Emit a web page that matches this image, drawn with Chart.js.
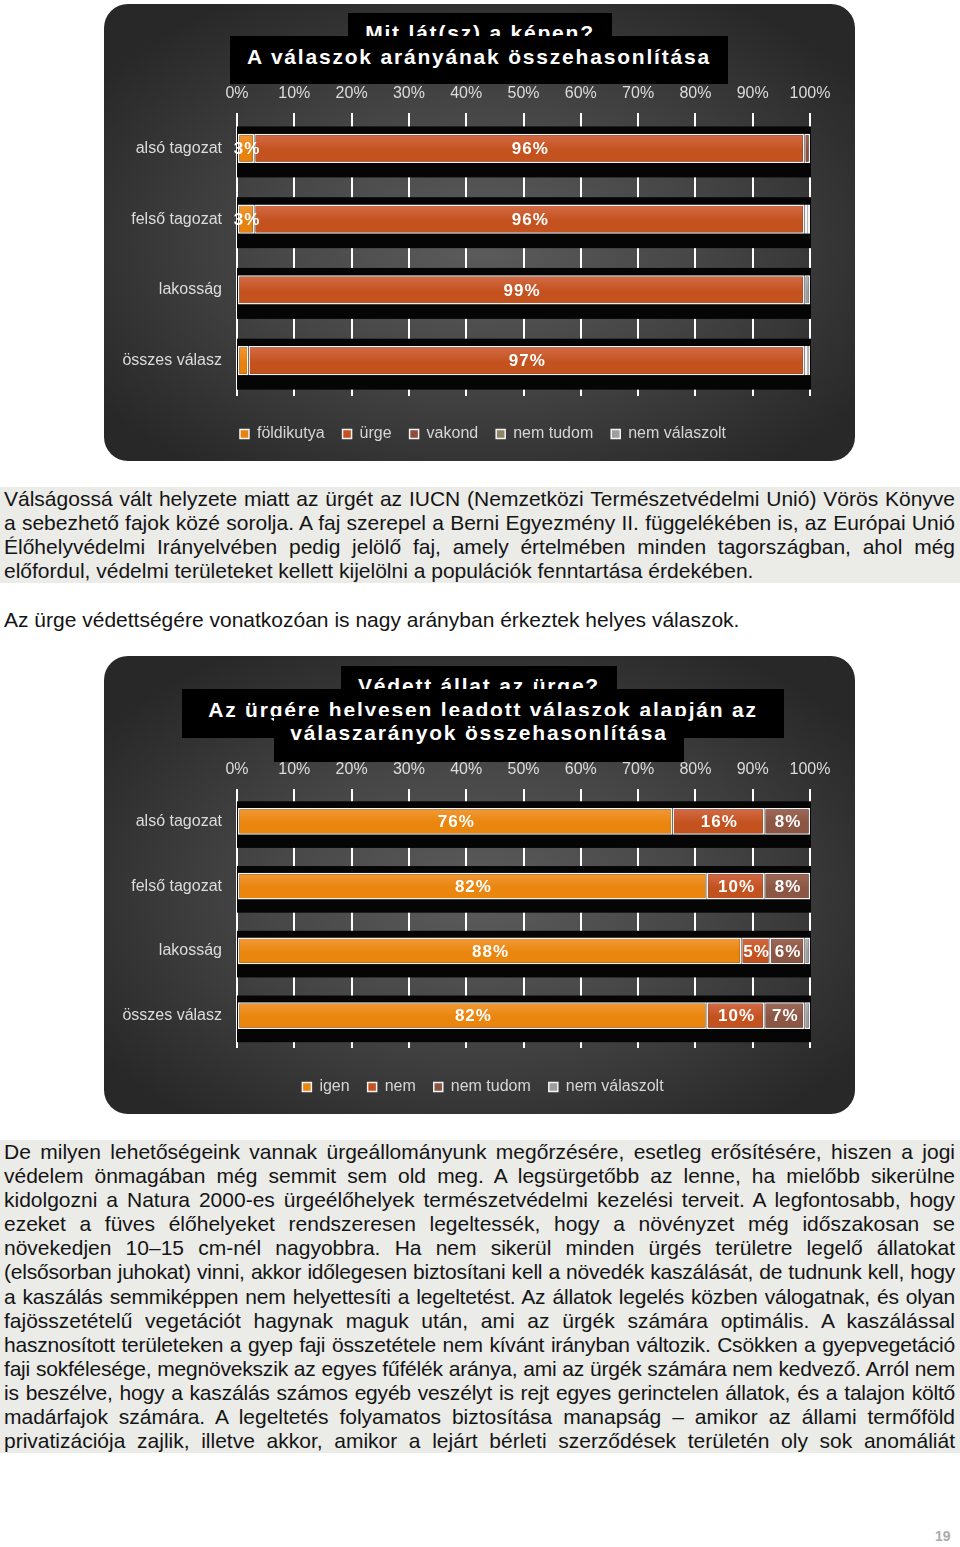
<!DOCTYPE html>
<html lang="hu">
<head>
<meta charset="utf-8">
<title>Ürge felmérés</title>
<script src="https://cdn.jsdelivr.net/npm/chart.js@4.4.1/dist/chart.umd.min.js"></script>
<style>
  body { margin: 0; background: #fff; }
  #page { position: relative; width: 960px; height: 1547px; overflow: hidden; font-family: "Liberation Sans", Arial, sans-serif; }
  .panel {
    position: absolute; border-radius: 24px;
    background: radial-gradient(ellipse 62% 62% at 50% 52%, #5c5c5c 0%, #474747 45%, #303030 85%, #282828 100%);
  }
  .panel canvas { position: absolute; left: 0; top: 0; }
  .tbox {
    position: absolute; background: #000; color: #fff; text-align: center;
    font-weight: bold; font-size: 21px; line-height: 24px; letter-spacing: 1.8px;
    white-space: nowrap; overflow: hidden; box-sizing: border-box;
  }
  .para { position: absolute; left: 0; width: 960px; font-size: 21px; line-height: 24.1px; color: #141414; }
  .para.shade { background: #ebebe8; }
  .line { margin-left: 4px; margin-right: 5px; text-align: justify; text-align-last: justify; white-space: nowrap; }
  .line.last { text-align-last: left; }
  .line.tight { letter-spacing: -0.2px; }
  #pageno { position: absolute; left: 935px; top: 1528px; font-weight: bold; font-size: 14px; color: #ababab; }
</style>
</head>
<body>
<div id="page">
  <div class="panel" style="left:104px;top:4px;width:751px;height:457px">
    <canvas id="chart1" width="751" height="457"></canvas>
  </div>
  <div class="tbox" style="left:348px;top:13px;width:264px;height:40px;padding-top:8px">Mit lát(sz) a képen?</div>
  <div class="tbox" style="left:230px;top:36px;width:498px;height:48px;padding-top:9px">A válaszok arányának összehasonlítása</div>

  <div class="para shade" style="top:487px">
    <div class="line">Válságossá vált helyzete miatt az ürgét az IUCN (Nemzetközi Természetvédelmi Unió) Vörös Könyve</div>
    <div class="line">a sebezhető fajok közé sorolja. A faj szerepel a Berni Egyezmény II. függelékében is, az Európai Unió</div>
    <div class="line">Élőhelyvédelmi Irányelvében pedig jelölő faj, amely értelmében minden tagországban, ahol még</div>
    <div class="line last">előfordul, védelmi területeket kellett kijelölni a populációk fenntartása érdekében.</div>
  </div>
  <div class="para" style="top:608px">
    <div class="line last">Az ürge védettségére vonatkozóan is nagy arányban érkeztek helyes válaszok.</div>
  </div>

  <div class="panel" style="left:104px;top:656px;width:751px;height:458px">
    <canvas id="chart2" width="751" height="458"></canvas>
  </div>
  <div class="tbox" style="left:341px;top:666px;width:276px;height:40px;padding-top:8px">Védett állat az ürge?</div>
  <div class="tbox" style="left:182px;top:689px;width:602px;height:49px;padding-top:9px">Az ürgére helyesen leadott válaszok alapján az</div>
  <div class="tbox" style="left:274px;top:716px;width:410px;height:46px;padding-top:5px">válaszarányok összehasonlítása</div>

  <div class="para shade" style="top:1140px">
    <div class="line">De milyen lehetőségeink vannak ürgeállományunk megőrzésére, esetleg erősítésére, hiszen a jogi</div>
    <div class="line">védelem önmagában még semmit sem old meg. A legsürgetőbb az lenne, ha mielőbb sikerülne</div>
    <div class="line">kidolgozni a Natura 2000-es ürgeélőhelyek természetvédelmi kezelési terveit. A legfontosabb, hogy</div>
    <div class="line">ezeket a füves élőhelyeket rendszeresen legeltessék, hogy a növényzet még időszakosan se</div>
    <div class="line">növekedjen 10–15 cm-nél nagyobbra. Ha nem sikerül minden ürgés területre legelő állatokat</div>
    <div class="line tight">(elsősorban juhokat) vinni, akkor időlegesen biztosítani kell a növedék kaszálását, de tudnunk kell, hogy</div>
    <div class="line tight">a kaszálás semmiképpen nem helyettesíti a legeltetést. Az állatok legelés közben válogatnak, és olyan</div>
    <div class="line">fajösszetételű vegetációt hagynak maguk után, ami az ürgék számára optimális. A kaszálással</div>
    <div class="line tight">hasznosított területeken a gyep faji összetétele nem kívánt irányban változik. Csökken a gyepvegetáció</div>
    <div class="line tight">faji sokfélesége, megnövekszik az egyes fűfélék aránya, ami az ürgék számára nem kedvező. Arról nem</div>
    <div class="line tight">is beszélve, hogy a kaszálás számos egyéb veszélyt is rejt egyes gerinctelen állatok, és a talajon költő</div>
    <div class="line">madárfajok számára. A legeltetés folyamatos biztosítása manapság – amikor az állami termőföld</div>
    <div class="line">privatizációja zajlik, illetve akkor, amikor a lejárt bérleti szerződések területén oly sok anomáliát</div>
  </div>
  <div id="pageno">19</div>
</div>

<script>
// shared categories and tick labels
const categories = ['alsó tagozat', 'felső tagozat', 'lakosság', 'összes válasz'];
const tickLabels = ['0%', '10%', '20%', '30%', '40%', '50%', '60%', '70%', '80%', '90%', '100%'];

// chart 1: Mit lát(sz) a képen?
const animalNames = ['földikutya', 'ürge', 'vakond', 'nem tudom', 'nem válaszolt'];
const foldikutya = [3, 3, 0, 2];
const urge = [96, 96, 99, 97];
const vakond = [1, 0, 0, 0.5];
const nemTudom1 = [0, 0.5, 0, 0.3];
const nemValaszolt1 = [0, 0.5, 1, 0.2];
const animalColors = ['#e8820f', '#c4521f', '#8e4d3b', '#8f8566', '#9d9d9d'];
const animalTops = ['#f29a38', '#d46c48', '#a0624f', '#a39a7c', '#b5b5b5'];

// chart 2: Védett állat az ürge?
const answerNames = ['igen', 'nem', 'nem tudom', 'nem válaszolt'];
const igen = [76, 82, 88, 82];
const nem = [16, 10, 5, 10];
const nemTudom2 = [8, 8, 6, 7];
const nemValaszolt2 = [0, 0, 1, 1];
const answerColors = ['#ea850e', '#c4521f', '#8c5645', '#9d9d9d'];
const answerTops = ['#f29a38', '#d46c48', '#a06a58', '#b5b5b5'];

const FONT = '"Liberation Sans", Arial, sans-serif';
const BAR_PCT = 0.41;

// black bands behind each bar row (they hide the white grid lines)
const bandPlugin = {
  id: 'bands',
  beforeDatasetsDraw(chart) {
    const { ctx, chartArea, scales } = chart;
    const y = scales.y;
    const step = y.getPixelForValue(1) - y.getPixelForValue(0);
    ctx.save();
    ctx.fillStyle = '#050505';
    categories.forEach((c, i) => {
      const cy = y.getPixelForValue(i);
      ctx.fillRect(chartArea.left, cy - step * 0.31, chartArea.right - chartArea.left + 1, step * 0.72);
    });
    ctx.restore();
  }
};

// percentage labels in the segments
const labelPlugin = {
  id: 'segLabels',
  afterDatasetsDraw(chart) {
    const { ctx } = chart;
    ctx.save();
    ctx.font = 'bold 17px ' + FONT;
    ctx.fillStyle = '#fff';
    ctx.textAlign = 'center';
    ctx.textBaseline = 'middle';
    ctx.letterSpacing = '1px';
    chart.data.datasets.forEach((ds, di) => {
      chart.getDatasetMeta(di).data.forEach((bar, i) => {
        const v = ds.data[i];
        if (v < 2.5) return;
        ctx.fillText(Math.round(v) + '%', (bar.x + bar.base) / 2 + 1, bar.y + 1);
      });
    });
    ctx.restore();
  }
};

// legend sits centred on the panel, not on the padded layout box
const legendShift = {
  id: 'legendShift',
  afterLayout(chart) {
    chart.legend.left += 26;
    chart.legend.right += 26;
  }
};

function barFill(base, top) {
  return (c) => {
    if (c.type !== 'data' || !c.chart.scales.y) return base;
    const y = c.chart.scales.y;
    const step = y.getPixelForValue(1) - y.getPixelForValue(0);
    const cy = y.getPixelForValue(c.dataIndex);
    const h = step * BAR_PCT / 2;
    if (!isFinite(cy) || !isFinite(h)) return base;
    const g = c.chart.ctx.createLinearGradient(0, cy - h, 0, cy + h);
    g.addColorStop(0, top);
    g.addColorStop(0.55, base);
    g.addColorStop(1, base);
    return g;
  };
}

function makeChart(id, names, series, colors, tops, topH, legendTitleH) {
  const datasets = names.map((name, i) => ({
    label: name,
    data: series[i],
    backgroundColor: barFill(colors[i], tops[i]),
    borderColor: '#f4f4f4',
    borderWidth: 1.5,
    borderSkipped: false,
    barPercentage: BAR_PCT,
    categoryPercentage: 1
  }));
  return new Chart(document.getElementById(id), {
    type: 'bar',
    data: { labels: categories, datasets },
    plugins: [bandPlugin, labelPlugin, legendShift],
    options: {
      indexAxis: 'y',
      responsive: false,
      animation: false,
      layout: { padding: { left: 0, right: 45, top: 0, bottom: 9 } },
      scales: {
        x: {
          position: 'top',
          stacked: true,
          min: 0,
          max: 100,
          ticks: {
            stepSize: 10,
            padding: 10,
            color: '#dcdcdc',
            font: { family: FONT, size: 16 },
            callback: (v, i) => tickLabels[i]
          },
          grid: { color: '#ffffff', lineWidth: 2, drawTicks: false },
          border: { display: false },
          afterFit: (s) => { s.height = topH; }
        },
        y: {
          stacked: true,
          ticks: { color: '#dcdcdc', padding: 15, font: { family: FONT, size: 16 } },
          grid: { display: false, drawTicks: false },
          border: { display: false },
          afterFit: (s) => { s.width = 133; }
        }
      },
      plugins: {
        tooltip: { enabled: false },
        legend: {
          position: 'bottom',
          title: { display: true, text: '', font: { size: 1, lineHeight: 1 }, padding: { top: legendTitleH - 1, bottom: 0 } },
          labels: {
            color: '#d6d6d6',
            boxWidth: 9,
            boxHeight: 9,
            padding: 18,
            font: { family: FONT, size: 16 }
          }
        }
      }
    }
  });
}

makeChart('chart1', animalNames, [foldikutya, urge, vakond, nemTudom1, nemValaszolt1], animalColors, animalTops, 109, 12);
makeChart('chart2', answerNames, [igen, nem, nemTudom2, nemValaszolt2], answerColors, answerTops, 133, 13);
</script>
</body>
</html>
